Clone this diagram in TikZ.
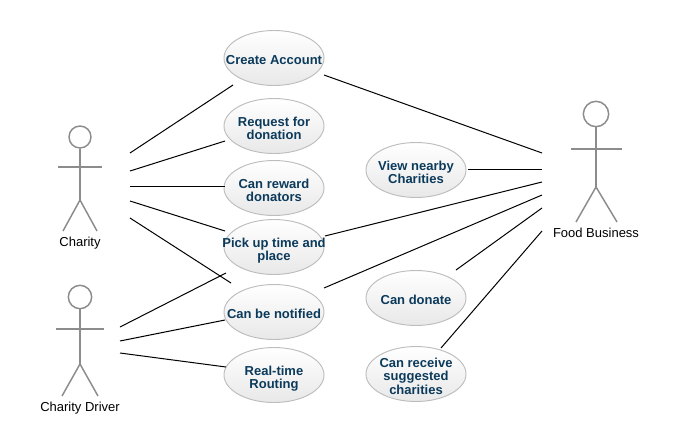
\documentclass[tikz,border=0pt]{standalone}
\usepackage{fontspec}
\setmainfont{Liberation Sans}
\usetikzlibrary{shapes.geometric}
\definecolor{usetext}{HTML}{0B3A5B}
\definecolor{actorgray}{HTML}{8C8C8C}
\definecolor{edgegray}{HTML}{BDBDBD}
\newcommand\uclines[1]{\vbox{\kern6pt\hbox{\begin{tabular}{@{}c@{}}#1\end{tabular}}}}
\tikzset{
  usecase/.style={ellipse,draw=edgegray,line width=0.7pt,top color=white,bottom color=black!9,
    minimum width=75pt,minimum height=41.25pt,inner xsep=-30pt,inner ysep=-20pt,text=usetext,
    font=\fontsize{9.75pt}{10pt}\selectfont\bfseries},
  actorline/.style={draw=actorgray,line width=1.1pt},
  actorlabel/.style={font=\fontsize{9.75pt}{11.6pt}\selectfont,text=black,inner sep=0pt},
  link/.style={draw=black,line width=0.75pt}
}
\begin{document}
\begin{tikzpicture}[x=0.75pt,y=-0.75pt]
\useasboundingbox (0,0) rectangle (681,443);
\fill[white] (0,0) rectangle (681,443);
% use cases
\node[usecase] (create) at (274,58) {\uclines{Create Account}};
\node[usecase] (request) at (274,126) {\uclines{Request for\\donation}};
\node[usecase] (reward) at (274,188) {\uclines{Can reward\\donators}};
\node[usecase] (pickup) at (274,247) {\uclines{Pick up time and\\place}};
\node[usecase] (notified) at (274,312) {\uclines{Can be notified}};
\node[usecase] (routing) at (274,375) {\uclines{Real-time\\Routing}};
\node[usecase] (nearby) at (416,170) {\uclines{View nearby\\Charities}};
\node[usecase] (donate) at (416,298) {\uclines{Can donate}};
\node[usecase] (suggest) at (416,374) {\uclines{Can receive\\suggested\\charities}};
% Charity actor
\node[circle,actorline,minimum size=16.5pt,inner sep=0pt] (charityhead) at (80,137) {};
\coordinate (charityhip) at (80,200);
\draw[actorline] (charityhead.south) -- (charityhip);
\draw[actorline] (58,167) -- (102,167);
\draw[actorline] (63,231) -- (charityhip) -- (97,231);
\node[actorlabel] (charitylabel) at (80,243) {Charity};
% Charity Driver actor
\node[circle,actorline,minimum size=17.5pt,inner sep=0pt] (driverhead) at (80,297) {};
\coordinate (driverhip) at (80,364);
\draw[actorline] (driverhead.south) -- (driverhip);
\draw[actorline] (56,329) -- (104,329);
\draw[actorline] (62,396) -- (driverhip) -- (98,396);
\node[actorlabel] (driverlabel) at (80,408) {Charity Driver};
% Food Business actor
\node[circle,actorline,minimum size=19pt,inner sep=0pt] (foodhead) at (596,114) {};
\coordinate (foodhip) at (596,187);
\draw[actorline] (foodhead.south) -- (foodhip);
\draw[actorline] (571,149) -- (622,149);
\draw[actorline] (576,222) -- (foodhip) -- (617,222);
\node[actorlabel] (foodlabel) at (596,233) {Food Business};
% free ends at the actors
\coordinate (c1) at (130,153);
\coordinate (c2) at (130,171);
\coordinate (c3) at (130,186);
\coordinate (c4) at (130,201);
\coordinate (c5) at (130,218);
\coordinate (d1) at (120,327);
\coordinate (d2) at (120,341);
\coordinate (d3) at (120,353);
\coordinate (f1) at (542,153);
\coordinate (f2) at (542,169);
\coordinate (f3) at (542,182);
\coordinate (f4) at (542,195);
\coordinate (f5) at (542,208);
\coordinate (f6) at (542,231);
% connectors
\draw[link] (c1) -- ([shift={(-41,27)}]create.center);
\draw[link] (c2) -- ([shift={(-49,15)}]request.center);
\draw[link] (c3) -- ([shift={(-49,-2)}]reward.center);
\draw[link] (c4) -- ([shift={(-49,-16)}]pickup.center);
\draw[link] (c5) -- ([shift={(-43,-29)}]notified.center);
\draw[link] (d1) -- ([shift={(-48,26)}]pickup.center);
\draw[link] (d2) -- ([shift={(-49,8)}]notified.center);
\draw[link] (d3) -- ([shift={(-48,-8)}]routing.center);
\draw[link] (f1) -- ([shift={(50,17)}]create.center);
\draw[link] (f2) -- ([shift={(52,-1)}]nearby.center);
\draw[link] (f3) -- ([shift={(51,-11)}]pickup.center);
\draw[link] (f4) -- ([shift={(50,-24)}]notified.center);
\draw[link] (f5) -- ([shift={(40,-28)}]donate.center);
\draw[link] (f6) -- ([shift={(25,-26)}]suggest.center);
\end{tikzpicture}
\end{document}
